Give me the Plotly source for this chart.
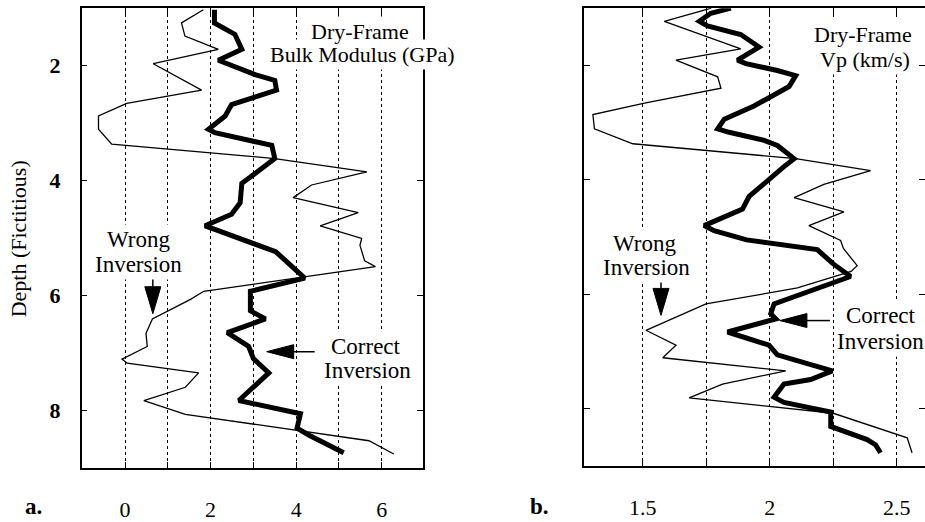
import plotly.graph_objects as go

# ---------------- data ----------------
# Panel a: dry-frame bulk modulus (GPa) vs depth
bulk_correct_x = [2.09, 2.09, 2.57, 2.73, 2.18, 3.04, 3.50, 3.54, 2.96, 2.49, 2.34, 1.95, 2.10, 3.04,
                  3.43, 3.50, 3.35, 3.04, 2.73, 2.69, 2.49, 1.87, 2.05, 2.85, 3.52, 4.20, 2.93, 2.93,
                  3.28, 2.39, 2.89, 3.00, 3.36, 2.66, 2.85, 4.10, 4.02, 4.29, 5.11]
bulk_correct_d = [1.03, 1.26, 1.46, 1.72, 1.91, 2.16, 2.26, 2.43, 2.57, 2.68, 2.88, 3.11, 3.17, 3.31,
                  3.39, 3.62, 3.71, 3.88, 4.05, 4.39, 4.59, 4.79, 4.84, 5.07, 5.24, 5.70, 5.93, 6.27,
                  6.41, 6.65, 6.89, 7.10, 7.35, 7.83, 7.86, 8.06, 8.31, 8.43, 8.74]

bulk_wrong_x = [1.83, 1.32, 1.40, 2.18, 0.66, 1.79, 0.04, -0.62, -0.62, -0.31, 3.50, 5.65, 4.36, 3.93,
                5.45, 4.56, 5.53, 5.49, 5.60, 5.85, 1.84, 1.53, 0.64, 0.49, 0.52, -0.07, 0.05, 1.72,
                1.41, 0.44, 1.41, 5.70, 6.28]
bulk_wrong_d = [1.03, 1.26, 1.49, 1.72, 1.97, 2.43, 2.66, 2.88, 3.11, 3.37, 3.62, 3.85, 4.08, 4.30,
                4.56, 4.79, 5.01, 5.13, 5.40, 5.50, 5.93, 6.07, 6.41, 6.66, 6.89, 7.11, 7.18, 7.35,
                7.60, 7.83, 8.07, 8.53, 8.76]

# Panel b: dry-frame Vp (km/s) vs depth
vp_correct_x = [1.847, 1.768, 1.723, 1.755, 1.886, 1.958, 1.873, 1.906, 2.030, 2.102, 2.076, 1.938,
                1.821, 1.795, 1.840, 1.978, 2.030, 2.096, 2.056, 1.978, 1.919, 1.893, 1.742, 1.781,
                1.909, 2.187, 2.250, 2.318, 2.017, 2.004, 2.024, 1.834, 1.886, 1.997, 2.030, 2.109,
                2.246, 2.161, 2.056, 2.017, 2.056, 2.240, 2.240, 2.383, 2.416, 2.436]
vp_correct_d = [1.00, 1.09, 1.23, 1.31, 1.46, 1.68, 1.91, 1.97, 2.09, 2.18, 2.37, 2.71,
                2.94, 3.11, 3.17, 3.31, 3.40, 3.63, 3.77, 4.06, 4.29, 4.51, 4.80, 4.89,
                5.05, 5.22, 5.47, 5.69, 6.17, 6.34, 6.43, 6.66, 6.74, 6.89, 7.06, 7.17,
                7.34, 7.49, 7.57, 7.80, 7.89, 8.06, 8.31, 8.54, 8.63, 8.77]

vp_wrong_x = [1.770, 1.585, 1.886, 1.631, 1.795, 1.808, 1.507, 1.304, 1.310, 1.461, 2.102, 2.397,
              2.213, 2.096, 2.292, 2.154, 2.279, 2.290, 2.344, 2.320, 2.109, 1.749, 1.513, 1.631,
              1.579, 2.063, 1.814, 1.683, 2.250, 2.541, 2.560]
vp_wrong_d = [1.00, 1.23, 1.71, 1.91, 2.20, 2.40, 2.66, 2.86, 3.11, 3.37, 3.63, 3.84,
              4.08, 4.31, 4.56, 4.80, 5.06, 5.20, 5.50, 5.60, 5.89, 6.17, 6.63, 6.89,
              7.11, 7.34, 7.57, 7.81, 8.08, 8.51, 8.77]

depth_ticks = [2, 4, 6, 8]
bulk_ticks = [0, 1, 2, 3, 4, 5, 6]
bulk_ticktext = ["0", "", "2", "", "4", "", "6"]
vp_ticks = [1.5, 1.75, 2.0, 2.25, 2.5]
vp_ticktext = ["1.5", "", "2", "", "2.5"]

# ---------------- figure ----------------
W, H = 925, 522
FONT = "Liberation Serif, Times New Roman, serif"

def px(x):
    return x / W

def py(y):
    return 1 - y / H

fig = go.Figure()
fig.add_trace(go.Scatter(x=bulk_wrong_x, y=bulk_wrong_d, mode="lines",
                         line=dict(color="black", width=1.3), xaxis="x", yaxis="y"))
fig.add_trace(go.Scatter(x=bulk_correct_x, y=bulk_correct_d, mode="lines",
                         line=dict(color="black", width=5), xaxis="x", yaxis="y"))
fig.add_trace(go.Scatter(x=vp_wrong_x, y=vp_wrong_d, mode="lines",
                         line=dict(color="black", width=1.3), xaxis="x2", yaxis="y2"))
fig.add_trace(go.Scatter(x=vp_correct_x, y=vp_correct_d, mode="lines",
                         line=dict(color="black", width=5), xaxis="x2", yaxis="y2"))
# placeholder so the right-hand tick axis exists
fig.add_trace(go.Scatter(x=[None], y=[None], xaxis="x2", yaxis="y3", hoverinfo="skip"))

common_x = dict(ticks="inside", ticklen=6, tickcolor="black", tickwidth=1.2,
                showline=True, linecolor="black", linewidth=1.5,
                showgrid=True, gridcolor="black", gridwidth=1, griddash="dot",
                zeroline=False, tickfont=dict(family=FONT, size=22, color="black"),
                ticklabelstandoff=21)
common_y = dict(ticks="inside", ticklen=6, tickcolor="black", tickwidth=1.2,
                showline=True, linecolor="black", linewidth=1.5,
                showgrid=False, zeroline=False, tickvals=depth_ticks)

fig.update_layout(
    width=W, height=H,
    margin=dict(l=0, r=0, t=0, b=0),
    paper_bgcolor="white", plot_bgcolor="white",
    showlegend=False,
    xaxis=dict(domain=[px(81.7), px(423)], range=[-1.012, 6.963], anchor="y",
               tickvals=bulk_ticks, ticktext=bulk_ticktext, mirror="ticks", **common_x),
    yaxis=dict(domain=[py(477.3), py(8.3)], range=[9.007, 1.003], anchor="x",
               mirror="ticks", ticktext=[str(v) for v in depth_ticks],
               tickfont=dict(family=FONT, size=22, color="black", weight="bold"),
               ticklabelstandoff=15, **common_y),
    xaxis2=dict(domain=[px(584), 1.0], range=[1.269, 2.611], anchor="y2",
                tickvals=vp_ticks, ticktext=vp_ticktext, mirror="ticks", **common_x),
    yaxis2=dict(domain=[py(475), py(8.3)], range=[9.0, 1.0], anchor="x2",
                mirror=False, showticklabels=False, **common_y),
    yaxis3=dict(domain=[py(475), py(8.3)], range=[9.0, 1.0], anchor="x2",
                overlaying="y2", side="right", ticks="inside", ticklen=6,
                tickcolor="black", tickwidth=1.2, showline=False, showgrid=False,
                zeroline=False, showticklabels=False, tickvals=depth_ticks),
)

# ---------------- text ----------------
def label(text, x, y, size=23, bold=False, bg=True, angle=0):
    fig.add_annotation(text=text, x=px(x), y=py(y), xref="paper", yref="paper",
                       xanchor="center", yanchor="middle", showarrow=False,
                       textangle=angle, borderpad=2,
                       bgcolor="white" if bg else "rgba(0,0,0,0)",
                       font=dict(family=FONT, size=size, color="black",
                                 weight="bold" if bold else "normal"))

# lower lines first so that upper lines (with descenders) are drawn on top
label("Bulk Modulus (GPa)", 362, 56, size=22)
label("Dry-Frame", 360, 32, size=22)
label("Vp (km/s)", 865, 61, size=22)
label("Dry-Frame", 863, 35, size=22)

label("Inversion", 138, 270)
label("Wrong", 138, 244)
label("Inversion", 367, 378)
label("Correct", 366, 353)

label("Inversion", 646, 273)
label("Wrong", 644, 248)
label("Inversion", 880, 348)
label("Correct", 881, 322)

label("Depth (Fictitious)", 18, 244, size=22, bg=False, angle=-90)
label("a.", 33, 516, size=23, bold=True, bg=False)
label("b.", 539, 516, size=23, bold=True, bg=False)

# ---------------- arrows (pixel-sized shapes anchored at the arrow tip) ----------------
def arrow(xa, ya, xref, yref, direction, shaft, head=27, half=8):
    if direction == "down":
        tri = f"M0,0 L{-half},{head} L{half},{head} Z"
        x0, y0, x1, y1 = 0, head, 0, shaft
    else:  # left
        tri = f"M0,0 L{head},{half} L{head},{-half} Z"
        x0, y0, x1, y1 = head, 0, shaft, 0
    fig.add_shape(type="path", path=tri, xref=xref, yref=yref,
                  xsizemode="pixel", ysizemode="pixel", xanchor=xa, yanchor=ya,
                  fillcolor="black", line=dict(color="black", width=1))
    fig.add_shape(type="line", x0=x0, y0=y0, x1=x1, y1=y1, xref=xref, yref=yref,
                  xsizemode="pixel", ysizemode="pixel", xanchor=xa, yanchor=ya,
                  line=dict(color="black", width=1.5))

arrow(0.65, 6.32, "x", "y", "down", 38)
arrow(3.31, 6.98, "x", "y", "left", 48, half=7)
arrow(1.572, 6.37, "x2", "y2", "down", 35)
arrow(2.04, 6.46, "x2", "y2", "left", 50, half=7)

fig.write_html("out.html")
